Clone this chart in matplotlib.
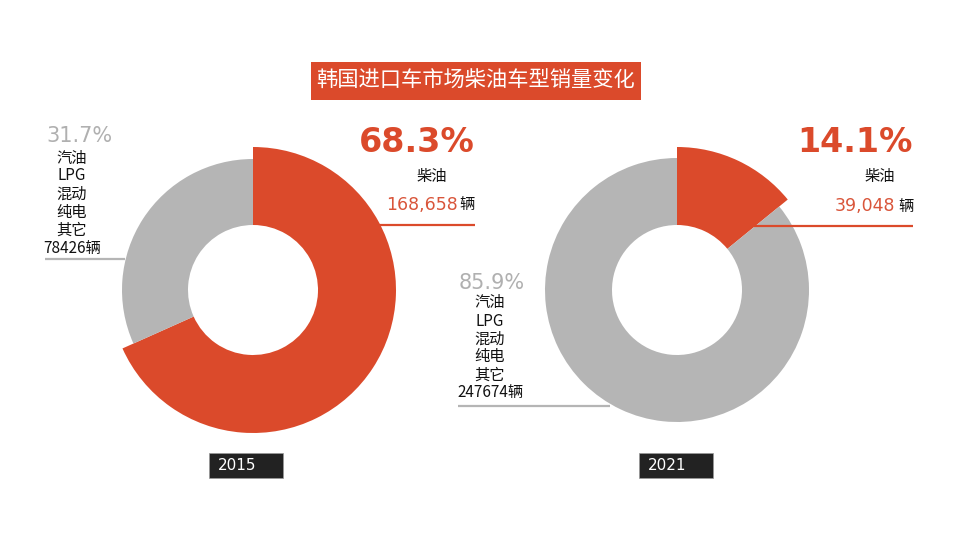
import matplotlib
matplotlib.use("Agg")
import matplotlib.pyplot as plt
from matplotlib.patches import Rectangle

# ---- data ----
years = ["2015", "2021"]
diesel_share = [68.3, 14.1]
other_share = [31.7, 85.9]
diesel_units = [168658, 39048]
other_units = [78426, 247674]
other_types = ["汽油", "LPG", "混动", "纯电", "其它"]
diesel_label = "柴油"
unit = "辆"
title = "韩国进口车市场柴油车型销量变化"

RED = "#DB4A2B"
RED_TXT = "#D9553A"
GRAY = "#B5B5B5"
GRAY_TXT = "#B0B0B0"
CJK = ["Noto Sans CJK SC", "DejaVu Sans"]

W, H = 960, 540
fig = plt.figure(figsize=(9.6, 5.4), dpi=100)
ax = fig.add_axes([0, 0, 1, 1])


def Y(y):
    return H - y


centers = [(253, 290), (677, 290)]
gray_outer = [131, 132]
red_outer = 143
inner = 65

for i in range(2):
    cx, cy = centers[i]
    wedges, _ = ax.pie([diesel_share[i], other_share[i]], center=(cx, Y(cy)),
                       radius=red_outer, startangle=90, counterclock=False,
                       colors=[RED, GRAY],
                       wedgeprops=dict(width=red_outer - inner, linewidth=0))
    wedges[1].set_radius(gray_outer[i])
    wedges[1].set_width(gray_outer[i] - inner)

# ---- left chart (2015) labels ----
ax.text(79, Y(136), f"{other_share[0]:.1f}%", color=GRAY_TXT, fontsize=15,
        family="DejaVu Sans", ha="center", va="center")
lines_left = other_types + [f"{other_units[0]}{unit}"]
for k, s in enumerate(lines_left):
    ax.text(72, Y(158 + 18 * k), s, fontsize=11, family=CJK,
            ha="center", va="center", color="#111111")
ax.plot([45, 125], [Y(259), Y(259)], color=GRAY, lw=1.6, solid_capstyle="butt")

ax.text(475, Y(142), f"{diesel_share[0]:.1f}%", color=RED, fontsize=24,
        fontweight="bold", family="DejaVu Sans", ha="right", va="center")
ax.text(447, Y(177), diesel_label, fontsize=11, family=CJK, ha="right",
        va="center", color="#111111")
ax.text(458, Y(205), f"{diesel_units[0]:,}", fontsize=12.5, family="DejaVu Sans",
        ha="right", va="center", color=RED_TXT)
ax.text(459, Y(205), unit, fontsize=11, family=CJK, ha="left", va="center",
        color="#111111")
ax.plot([378, 475], [Y(225), Y(225)], color=RED, lw=1.6, solid_capstyle="butt", zorder=5)

# ---- right chart (2021) labels ----
ax.text(492, Y(283), f"{other_share[1]:.1f}%", color=GRAY_TXT, fontsize=15,
        family="DejaVu Sans", ha="center", va="center")
lines_right = other_types + [f"{other_units[1]}{unit}"]
for k, s in enumerate(lines_right):
    ax.text(490, Y(303 + 18 * k), s, fontsize=11, family=CJK,
            ha="center", va="center", color="#111111")
ax.plot([458, 610], [Y(406), Y(406)], color=GRAY, lw=1.6, solid_capstyle="butt", zorder=5)

ax.text(913, Y(143), f"{diesel_share[1]:.1f}%", color=RED, fontsize=24,
        fontweight="bold", family="DejaVu Sans", ha="right", va="center")
ax.text(895, Y(176), diesel_label, fontsize=11, family=CJK, ha="right",
        va="center", color="#111111")
ax.text(895, Y(206), f"{diesel_units[1]:,}", fontsize=12.5, family="DejaVu Sans",
        ha="right", va="center", color=RED_TXT)
ax.text(898, Y(206), unit, fontsize=11, family=CJK, ha="left", va="center",
        color="#111111")
ax.plot([753, 913], [Y(226), Y(226)], color=RED, lw=1.6, solid_capstyle="butt", zorder=5)

# ---- title ----
ax.add_patch(Rectangle((311, Y(100)), 330, 38, facecolor=RED, edgecolor="none"))
ax.text(476, Y(81), title, color="white", fontsize=15.3, family=CJK,
        ha="center", va="center")

# ---- year boxes ----
year_boxes = [(209, 453), (639, 453)]
for (bx, by), yr in zip(year_boxes, years):
    ax.add_patch(Rectangle((bx, Y(by + 25)), 74, 25, facecolor="#222222",
                           edgecolor="#999999", lw=0.5))
    ax.text(bx + 9, Y(by + 13), yr, color="white", fontsize=11,
            family="DejaVu Sans", ha="left", va="center")

ax.set_xlim(0, W)
ax.set_ylim(0, H)
ax.set_aspect("equal")
ax.axis("off")
fig.savefig("out.png", dpi=100, facecolor="white")
